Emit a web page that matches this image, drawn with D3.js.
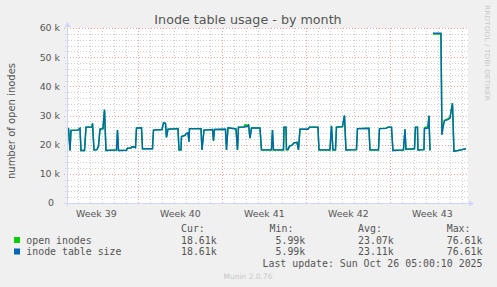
<!DOCTYPE html>
<html>
<head>
<meta charset="utf-8">
<script src="https://cdn.jsdelivr.net/npm/d3@7"></script>
<style>
  body { margin: 0; background: #F0F0F0; }
  svg { display: block; }
  text { font-family: "DejaVu Sans", sans-serif; fill: #555; }
  .mono { font-family: "DejaVu Sans Mono", monospace; font-size: 9.9px; white-space: pre; }
</style>
</head>
<body>
<svg id="chart" width="497" height="287"></svg>
<script>
const TITLE = "Inode table usage - by month";
const Y_LABEL = "number of open inodes";
const START = new Date("2025-09-23T01:15:00Z");
const END = new Date("2025-10-26T11:20:00Z");
const yMax = 60;
const yTicks = [0, 10, 20, 30, 40, 50, 60];
const yTickLabels = ["0", "10 k", "20 k", "30 k", "40 k", "50 k", "60 k"];

// hours after START, values in thousands
const hours = [0,3,6,8,22,26,28,35,38,50,
  51,54,60,63,66,72,75,78,99,101,
  103,119,121,128,130,134,137,139,149,151,
  171,173,190,193,197,199,202,222,224,228,
  229,236,238,242,244,245,268,270,274,291,
  293,295,317,319,322,338,341,343,354,356,
  362,363,366,369,386,389,409,411,413,433,
  434,438,439,442,445,450,454,460,463,466,
  482,485,502,504,526,529,532,537,539,551,
  555,558,579,581,604,606,623,625,638,642,
  649,652,673,676,678,695,697,701,702,714,
  715,722,724,726,728,732,748,750,752,755,
  762,766,771,774,782,790,798];

const tableSize = [25.6,25.5,18.0,24.9,25.0,25.6,18.0,18.0,26.0,26.0,
  27.3,18.2,18.3,19.5,25.3,25.5,32.0,18.0,18.2,25.0,
  18.0,18.1,18.8,18.8,19.3,19.2,19.0,25.7,25.8,18.6,
  18.6,25.0,25.2,27.5,27.3,22.5,25.3,25.5,18.2,18.2,
  22.8,23.2,23.8,24.0,21.0,25.5,25.5,18.2,25.0,25.2,
  21.4,25.2,25.3,18.2,25.8,25.4,18.2,26.0,26.0,26.2,
  26.3,27.0,22.2,25.7,25.7,18.2,18.2,25.0,18.2,18.2,
  26.0,26.0,18.3,18.3,19.5,19.8,20.6,20.8,18.2,25.3,
  25.3,26.0,26.0,18.2,18.2,26.5,18.2,18.2,26.0,26.2,
  30.0,18.2,18.3,25.5,25.6,18.2,18.2,25.5,25.6,26.0,
  26.0,18.0,18.2,25.3,18.4,18.6,26.0,26.0,18.2,18.3,
  25.5,25.7,29.9,18.0,null,58.2,58.2,23.4,26.0,28.3,
  28.6,29.0,34.2,17.8,18.0,18.3,18.6];

const openInodes = [25.6,25.5,18.0,24.9,25.0,25.6,18.0,18.0,26.0,26.0,
  27.3,18.2,18.3,19.5,25.3,25.5,32.0,18.0,18.2,25.0,
  18.0,18.1,18.8,18.8,19.3,19.2,19.0,25.7,25.8,18.6,
  18.6,25.0,25.2,27.5,27.3,22.5,25.3,25.5,18.2,18.2,
  22.8,23.2,23.8,24.0,21.0,25.5,25.5,18.2,25.0,25.2,
  21.4,25.2,25.3,18.2,25.8,25.4,18.2,26.0,26.0,26.8,
  26.4,27.0,22.2,25.7,25.7,18.2,18.2,25.0,18.2,18.2,
  26.0,26.0,18.3,18.3,19.5,19.8,20.6,20.8,18.2,25.3,
  25.3,26.0,26.0,18.2,18.2,26.5,18.2,18.2,26.0,26.2,
  30.0,18.2,18.3,25.5,25.6,18.2,18.2,25.5,25.6,26.0,
  26.0,18.0,18.2,25.3,18.4,18.6,26.0,26.0,18.2,18.3,
  25.8,26.2,29.9,18.0,null,57.9,58.0,23.4,26.0,28.3,
  28.9,29.3,34.2,17.8,18.0,18.3,18.6];

const seriesNames = ["open inodes", "inode table size"];
const seriesColors = ["#00CC00", "#0066B3"];
const statHeaders = ["Cur:", "Min:", "Avg:", "Max:"];
const openStats = ["18.61k", " 5.99k", "23.07k", "76.61k"];
const sizeStats = ["18.61k", " 5.99k", "23.11k", "76.61k"];
const LAST_UPDATE = "Last update: Sun Oct 26 05:00:10 2025";
const FOOTER = "Munin 2.0.76";
const WATERMARK = "RRDTOOL / TOBI OETIKER";

const svg = d3.select("#chart");
const plot = {left: 67, right: 468, top: 28, bottom: 203};
const axisColor = "#CFD6F8";

const x = d3.scaleUtc().domain([START, END]).range([plot.left, plot.right]);
const y = d3.scaleLinear().domain([0, yMax]).range([plot.bottom, plot.top]);
const px = v => Math.round(v) + 0.5;

svg.append("rect").attr("width", 497).attr("height", 287).attr("fill", "#F0F0F0");
svg.append("rect")
    .attr("x", plot.left).attr("y", plot.top)
    .attr("width", plot.right - plot.left).attr("height", plot.bottom - plot.top)
    .attr("fill", "#fff");

// grid
const days = d3.utcDay.range(START, END);
const mondays = d3.utcMonday.range(START, END);
const minorY = d3.range(2, yMax, 2).filter(v => v % 10 !== 0);

const grid = svg.append("g").attr("stroke-dasharray", "1,2").attr("stroke-width", 1);
grid.selectAll(".vmin").data(days.filter(d => d.getUTCDay() !== 1)).enter().append("line")
    .attr("x1", d => px(x(d))).attr("x2", d => px(x(d)))
    .attr("y1", plot.top).attr("y2", plot.bottom + 2)
    .attr("stroke", "#cfcfcf");
grid.selectAll(".hmin").data(minorY).enter().append("line")
    .attr("x1", plot.left - 2).attr("x2", plot.right)
    .attr("y1", d => px(y(d))).attr("y2", d => px(y(d)))
    .attr("stroke", "#cfcfcf");
grid.selectAll(".vmaj").data(mondays).enter().append("line")
    .attr("x1", d => px(x(d))).attr("x2", d => px(x(d)))
    .attr("y1", plot.top).attr("y2", plot.bottom + 2)
    .attr("stroke", "#eda3a3");
grid.selectAll(".hmaj").data(yTicks.slice(1)).enter().append("line")
    .attr("x1", plot.left - 3).attr("x2", plot.right)
    .attr("y1", d => px(y(d))).attr("y2", d => px(y(d)))
    .attr("stroke", "#eda3a3");

// series
const points = hours.map((h, i) => ({
    t: d3.utcHour.offset(START, h),
    size: tableSize[i],
    open: openInodes[i]
}));
const lineFor = key => d3.line()
    .defined(d => d[key] != null)
    .x(d => x(d.t))
    .y(d => y(d[key]));

svg.append("path").datum(points)
    .attr("d", lineFor("open"))
    .attr("fill", "none").attr("stroke", seriesColors[0]).attr("stroke-width", 1.5);
svg.append("path").datum(points)
    .attr("d", lineFor("size"))
    .attr("fill", "none").attr("stroke", seriesColors[1]).attr("stroke-width", 1.4);

// axes
svg.append("line")
    .attr("x1", plot.left - 3).attr("x2", plot.right + 2)
    .attr("y1", px(plot.bottom)).attr("y2", px(plot.bottom))
    .attr("stroke", axisColor);
svg.append("path")
    .attr("d", `M${plot.right + 1},${plot.bottom - 2.5} L${plot.right + 6},${plot.bottom + 0.5} L${plot.right + 1},${plot.bottom + 3.5}Z`)
    .attr("fill", axisColor);
svg.append("line")
    .attr("x1", px(plot.left)).attr("x2", px(plot.left))
    .attr("y1", plot.bottom + 3).attr("y2", plot.top - 2)
    .attr("stroke", axisColor);
svg.append("path")
    .attr("d", `M${plot.left - 2.5},${plot.top - 1} L${plot.left + 0.5},${plot.top - 6} L${plot.left + 3.5},${plot.top - 1}Z`)
    .attr("fill", axisColor);

// tick labels
svg.selectAll(".ylab").data(yTicks).enter().append("text")
    .attr("x", (d, i) => i === 0 ? 54 : 60)
    .attr("y", d => y(d) + 3.4)
    .attr("text-anchor", "end")
    .attr("font-size", 9.4)
    .text((d, i) => yTickLabels[i]);

svg.selectAll(".xlab").data(mondays.concat([d3.utcMonday.floor(START)]).filter(d => x(d3.utcHour.offset(d, 84)) < plot.right + 10 && x(d3.utcHour.offset(d, 84)) > plot.left))
    .enter().append("text")
    .attr("x", d => x(d3.utcHour.offset(d, 84)))
    .attr("y", 216.5)
    .attr("text-anchor", "middle")
    .attr("font-size", 9.4)
    .text(d => d3.utcFormat("Week %V")(d));

// title and labels
svg.append("text").attr("x", 248).attr("y", 24)
    .attr("text-anchor", "middle").attr("font-size", 12.7).text(TITLE);
svg.append("text")
    .attr("transform", "translate(14.5,121) rotate(-90)")
    .attr("text-anchor", "middle").attr("font-size", 10).text(Y_LABEL);
svg.append("text")
    .attr("transform", "translate(485,5) rotate(90)")
    .attr("font-size", 6.5).attr("textLength", 96).attr("lengthAdjust", "spacingAndGlyphs")
    .style("fill", "#c8c8c8").text(WATERMARK);

// legend
const cols = [181, 269.6, 358.1, 446.7];
const rowY = [243.5, 255];
svg.selectAll(".hdr").data(statHeaders).enter().append("text")
    .attr("class", "mono").attr("x", (d, i) => cols[i]).attr("y", 232).text(d => d);

[openStats, sizeStats].forEach((stats, r) => {
    svg.append("rect")
        .attr("x", 14).attr("y", rowY[r] - 6.5).attr("width", 6).attr("height", 6)
        .attr("fill", seriesColors[r]);
    svg.append("text").attr("class", "mono")
        .attr("x", 26.3).attr("y", rowY[r]).text(seriesNames[r]);
    svg.selectAll(".st" + r).data(stats).enter().append("text")
        .attr("class", "mono").attr("x", (d, i) => cols[i]).attr("y", rowY[r]).text(d => d);
});

svg.append("text").attr("class", "mono")
    .attr("x", 482.5).attr("y", 267).attr("text-anchor", "end").text(LAST_UPDATE);
svg.append("text").attr("x", 248).attr("y", 279)
    .attr("text-anchor", "middle").attr("font-size", 7.5)
    .style("fill", "#c8c8c8").text(FOOTER);
</script>
</body>
</html>
